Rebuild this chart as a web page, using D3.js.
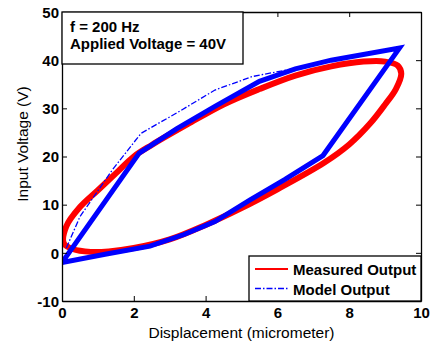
<!DOCTYPE html>
<html>
<head>
<meta charset="utf-8">
<script src="https://d3js.org/d3.v7.min.js"></script>
<style>
  html, body { margin: 0; padding: 0; background: #fff; }
  svg { display: block; font-family: "Liberation Sans", Arial, sans-serif; }
</style>
</head>
<body>
<svg id="chart" width="430" height="344"></svg>
<script>
// measured hysteresis loop (displacement um, voltage V)
var measX = [0.05, 0.3, 0.8, 1.3, 2.0, 3.0, 4.0, 5.0, 6.0, 7.3, 8.0, 8.6, 9.0, 9.3, 9.45, 9.35, 9.0, 8.4, 7.5, 6.5, 5.5, 4.5, 3.5, 2.5, 2.0, 1.5, 1.0, 0.5, 0.12];
var measY = [2.0, 0.8, 0.2, 0.3, 1.0, 2.8, 5.8, 9.3, 13.2, 18.7, 22.5, 27, 30.8, 34, 37.2, 38.9, 39.7, 39.7, 38.7, 36.8, 34, 30.8, 26.7, 22.4, 20, 16.5, 13, 9.5, 5.5];

// model output, steady loop
var modelX = [0, 1.2, 2.45, 3.4, 4.26, 5.24, 6.2, 7.27, 9.4, 7.5, 6.5, 5.5, 4.26, 3.2, 2.15, 0];
var modelY = [-2, -0.3, 1.4, 3.8, 6.5, 11, 15.2, 20.2, 42.5, 40, 38.2, 35.6, 30.4, 25.8, 20.7, -2];

// model output, first rising branch
var firstX = [0.12, 0.5, 1.4, 2.2, 3.3, 4.26, 5.3, 6.5, 7.3];
var firstY = [1.0, 7.5, 17.2, 24.8, 29.5, 33.8, 36.6, 38.3, 39.5];

var xTicks = [0, 2, 4, 6, 8, 10];
var yTicks = [-10, 0, 10, 20, 30, 40, 50];
var legendLabels = ["Measured Output", "Model Output"];
var noteLines = ["f = 200 Hz", "Applied Voltage = 40V"];

var svg = d3.select("#chart");
var pLeft = 62, pRight = 421, pTop = 12, pBottom = 301;

var x = d3.scaleLinear().domain([0, 10]).range([pLeft, pRight]);
var y = d3.scaleLinear().domain([-10, 50]).range([pBottom, pTop]);

var zip = function(xs, ys) { return xs.map(function(v, i) { return [v, ys[i]]; }); };

svg.append("clipPath").attr("id", "plotclip")
  .append("rect").attr("x", pLeft).attr("y", pTop).attr("width", pRight - pLeft).attr("height", pBottom - pTop);

var plot = svg.append("g").attr("clip-path", "url(#plotclip)");

// measured, smooth closed loop
plot.append("path")
  .datum(zip(measX, measY))
  .attr("d", d3.line().x(function(d) { return x(d[0]); }).y(function(d) { return y(d[1]); }).curve(d3.curveCatmullRomClosed))
  .attr("fill", "none").attr("stroke", "#ff0000").attr("stroke-width", 6);

var lin = d3.line().x(function(d) { return x(d[0]); }).y(function(d) { return y(d[1]); });

// model loop (overlapping cycles -> looks solid and thick)
plot.append("path")
  .datum(zip(modelX, modelY))
  .attr("d", lin)
  .attr("fill", "none").attr("stroke", "#0000ff").attr("stroke-width", 5).attr("stroke-linejoin", "miter");

plot.append("path")
  .datum(zip(firstX, firstY))
  .attr("d", lin)
  .attr("fill", "none").attr("stroke", "#0000ff").attr("stroke-width", 1.3)
  .attr("stroke-dasharray", "6,2,1.5,2");

// axes with inward ticks, box on all sides
var tk = 5;
var fmt = function(d) { return String(d); };
var axisB = d3.axisBottom(x).tickValues(xTicks).tickFormat(fmt).tickSizeInner(-tk).tickSizeOuter(0).tickPadding(6.5);
var axisL = d3.axisLeft(y).tickValues(yTicks).tickFormat(fmt).tickSizeInner(-tk).tickSizeOuter(0).tickPadding(3);
var axisT = d3.axisTop(x).tickValues(xTicks).tickSizeInner(-tk).tickSizeOuter(0).tickFormat("");
var axisR = d3.axisRight(y).tickValues(yTicks).tickSizeInner(-tk).tickSizeOuter(0).tickFormat("");

svg.append("g").attr("transform", "translate(0," + pBottom + ")").call(axisB);
var gL = svg.append("g").attr("transform", "translate(" + pLeft + ",0)").call(axisL);
svg.append("g").attr("transform", "translate(0," + pTop + ")").call(axisT);
svg.append("g").attr("transform", "translate(" + pRight + ",0)").call(axisR);

svg.selectAll(".domain").attr("stroke", "#000").attr("stroke-width", 1.3);
svg.selectAll(".tick line").attr("stroke", "#000").attr("stroke-width", 1);
svg.selectAll(".tick text").attr("font-size", 15).attr("font-weight", "bold").attr("fill", "#000")
  .attr("font-family", "Liberation Sans, Arial, sans-serif");
gL.selectAll(".tick text").attr("dy", "0.35em");

// axis titles
svg.append("text").attr("x", (pLeft + pRight) / 2).attr("y", 338)
  .attr("text-anchor", "middle").attr("font-size", 15.5).text("Displacement (micrometer)");
svg.append("text").attr("transform", "translate(28,144) rotate(-90)")
  .attr("text-anchor", "middle").attr("font-size", 15.5).text("Input Voltage (V)");

// annotation box
svg.append("rect").attr("x", pLeft).attr("y", pTop).attr("width", 181).attr("height", 52)
  .attr("fill", "#fff").attr("stroke", "#000").attr("stroke-width", 1.3);
noteLines.forEach(function(t, i) {
  svg.append("text").attr("x", 70).attr("y", 32 + i * 17)
    .attr("font-size", 15).attr("font-weight", "bold").text(t);
});

// legend
var lg = svg.append("g");
lg.append("rect").attr("x", 249).attr("y", 256).attr("width", pRight - 249).attr("height", pBottom - 256)
  .attr("fill", "#fff").attr("stroke", "#000").attr("stroke-width", 1.3);
var legStyles = [
  { color: "#ff0000", width: 1.8, dash: null },
  { color: "#0000ff", width: 1.3, dash: "6,2,1.5,2" }
];
legendLabels.forEach(function(t, i) {
  var yy = 269 + i * 19.5;
  lg.append("line").attr("x1", 255).attr("x2", 288).attr("y1", yy).attr("y2", yy)
    .attr("stroke", legStyles[i].color).attr("stroke-width", legStyles[i].width)
    .attr("stroke-dasharray", legStyles[i].dash);
  lg.append("text").attr("x", 293).attr("y", yy + 6).attr("font-size", 15).attr("font-weight", "bold").text(t);
});
</script>
</body>
</html>
